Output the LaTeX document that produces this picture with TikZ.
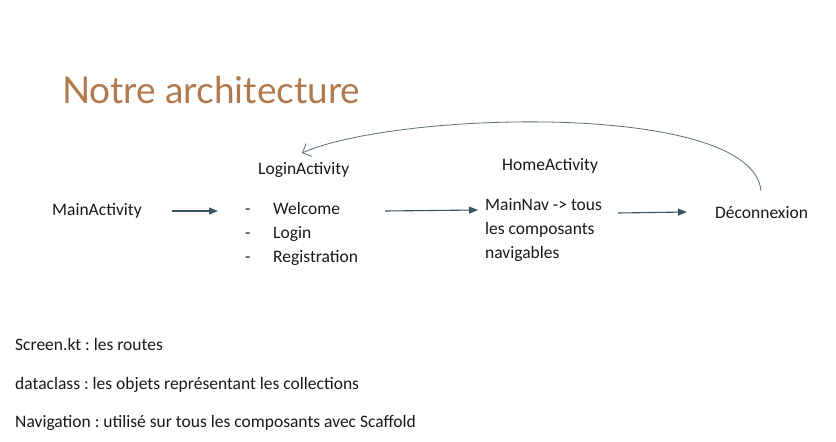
\documentclass[tikz,border=0pt]{standalone}
\usepackage{fontspec}
\setmainfont{Carlito}
\newfontfamily\titlefont{Lato}
\usetikzlibrary{arrows.meta,calc}
\definecolor{titlebrown}{HTML}{B07A4E}
\definecolor{arrowslate}{HTML}{3A5561}
\definecolor{curveslate}{HTML}{5A6E78}
\frenchspacing
\begin{document}
\begin{tikzpicture}[x=1pt,y=1pt,
  txt/.style={anchor=base west,inner sep=0pt,font=\fontsize{17.5}{21}\selectfont,text=black!90},
  flow/.style={draw=arrowslate,line width=1.1pt,-{Triangle[length=9pt,width=7pt]}},
  back/.style={draw=curveslate,line width=0.8pt,-{Straight Barb[length=7pt,width=14pt,line width=0.8pt]}}]
\useasboundingbox (0,0) rectangle (836,-442);
% heading
\node[anchor=base west,inner sep=0pt,text=titlebrown,font=\titlefont\fontsize{37}{44}\selectfont] (title) at (62,-103) {Notre architecture};
% flow of activities
\node[txt] (main) at (52,-215) {MainActivity};
\node[txt] (login) at (258,-174) {LoginActivity};
\node[txt] (d1) at (245,-214) {-};
\node[txt] (d2) at (245,-238) {-};
\node[txt] (d3) at (245,-262) {-};
\node[txt] (welcome) at (273,-214) {Welcome};
\node[txt] (loginscr) at (273,-238) {Login};
\node[txt] (registration) at (273,-262) {Registration};
\node[txt] (home) at (502,-170) {HomeActivity};
\node[txt] (nav1) at (485,-210) {MainNav -> tous};
\node[txt] (nav2) at (485,-234) {les composants};
\node[txt] (nav3) at (485,-258) {navigables};
\node[txt] (logout) at (715,-218) {Déconnexion};
% connectors
\draw[flow] ($(main.base east)+(30,4)$) -- ($(d1.base west)+(-27,3)$);
\draw[flow] ($(welcome.base east)+(45,3)$) -- ($(nav1.base west)+(-7,0)$);
\draw[flow] ($(nav1.base east)+(16,-3)$) -- ($(logout.base west)+(-28,6)$);
\coordinate (backstart) at ($(logout.base west)+(46,27)$);
\coordinate (backend) at ($(login.base west)+(44,21)$);
\draw[back] (backstart) .. controls +(-8,90) and +(95,42) .. (backend);
% notes
\node[txt] (n1) at (15,-350) {Screen.kt : les routes};
\node[txt] (n2) at (15,-389) {dataclass : les objets représentant les collections};
\node[txt] (n3) at (15,-427) {Navigation : utilisé sur tous les composants avec Scaffold};
\end{tikzpicture}
\end{document}
